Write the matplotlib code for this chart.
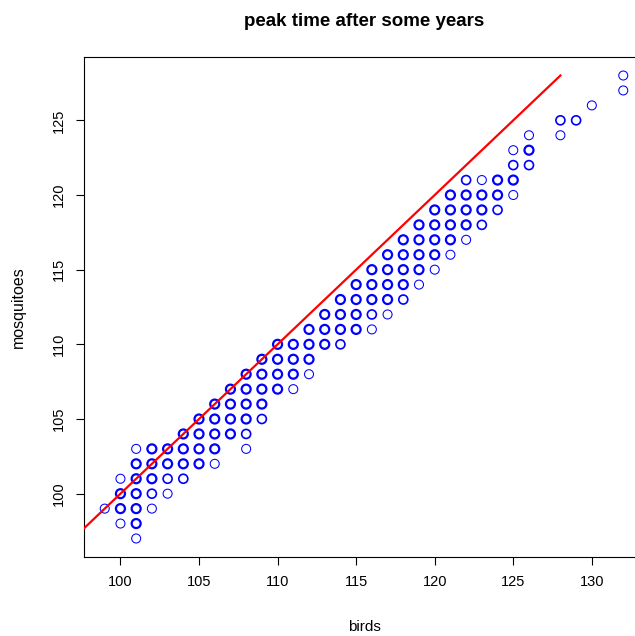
import matplotlib
matplotlib.use("Agg")
import matplotlib.pyplot as plt
import numpy as np

plt.rcParams['font.family'] = ['Liberation Sans', 'DejaVu Sans']

# one entry per distinct point, counts = how many times the pair occurs
birds = [101,
         100, 101,
         99, 100, 101, 102,
         100, 101, 102, 103,
         100, 101, 102, 103, 104,
         101, 102, 103, 104, 105, 106,
         101, 102, 103, 104, 105, 106, 108,
         104, 105, 106, 107, 108,
         105, 106, 107, 108, 109,
         106, 107, 108, 109,
         107, 108, 109, 110, 111,
         108, 109, 110, 111, 112,
         109, 110, 111, 112,
         110, 111, 112, 113, 114,
         112, 113, 114, 115, 116,
         113, 114, 115, 116, 117,
         114, 115, 116, 117, 118,
         115, 116, 117, 118, 119,
         116, 117, 118, 119, 120,
         117, 118, 119, 120, 121,
         118, 119, 120, 121, 122,
         119, 120, 121, 122, 123,
         120, 121, 122, 123, 124,
         121, 122, 123, 124, 125,
         122, 123, 124, 125,
         125, 126,
         125, 126,
         126, 128,
         128, 129,
         130,
         132,
         132]
mosquitoes = [97,
              98, 98,
              99, 99, 99, 99,
              100, 100, 100, 100,
              101, 101, 101, 101, 101,
              102, 102, 102, 102, 102, 102,
              103, 103, 103, 103, 103, 103, 103,
              104, 104, 104, 104, 104,
              105, 105, 105, 105, 105,
              106, 106, 106, 106,
              107, 107, 107, 107, 107,
              108, 108, 108, 108, 108,
              109, 109, 109, 109,
              110, 110, 110, 110, 110,
              111, 111, 111, 111, 111,
              112, 112, 112, 112, 112,
              113, 113, 113, 113, 113,
              114, 114, 114, 114, 114,
              115, 115, 115, 115, 115,
              116, 116, 116, 116, 116,
              117, 117, 117, 117, 117,
              118, 118, 118, 118, 118,
              119, 119, 119, 119, 119,
              120, 120, 120, 120, 120,
              121, 121, 121, 121,
              122, 122,
              123, 123,
              124, 124,
              125, 125,
              126,
              127,
              128]
counts = [1,
          1, 3,
          1, 3, 3, 1,
          3, 3, 2, 1,
          1, 3, 3, 2, 2,
          3, 3, 3, 3, 3, 1,
          1, 3, 3, 3, 3, 3, 1,
          3, 3, 3, 3, 2,
          3, 3, 3, 3, 2,
          3, 3, 3, 3,
          3, 3, 3, 3, 1,
          3, 3, 3, 3, 1,
          3, 3, 3, 3,
          3, 3, 3, 3, 2,
          3, 3, 3, 3, 1,
          3, 3, 3, 2, 1,
          3, 3, 3, 3, 2,
          3, 3, 3, 3, 1,
          3, 3, 3, 3, 1,
          3, 3, 3, 3, 1,
          3, 3, 3, 3, 1,
          3, 3, 3, 3, 2,
          3, 3, 3, 3, 2,
          3, 3, 3, 3, 1,
          2, 1, 3, 3,
          2, 2,
          1, 3,
          1, 1,
          2, 2,
          1,
          1,
          1]

# fitted line (y = x) over the mosquitoes range
line_x = [97, 128]
line_y = [97, 128]

x = np.array(birds)
y = np.array(mosquitoes)
c = np.array(counts)

fig = plt.figure(figsize=(6.35, 6.36), dpi=100)
# plot box runs a little past the right edge of the image, like the original
ax = fig.add_axes([84 / 635, 79 / 636, 560 / 635, 500 / 636])

lw = np.where(c == 1, 0.75, np.where(c == 2, 1.2, 1.6))
ax.scatter(x, y, s=42, facecolors='none', edgecolors='blue', linewidths=lw, zorder=3)
ax.plot(line_x, line_y, color='red', lw=1.6, zorder=4)

ax.set_xlim(97.68, 133.32)
ax.set_ylim(95.76, 129.24)
ax.set_xticks([100, 105, 110, 115, 120, 125, 130])
ax.set_yticks([100, 105, 110, 115, 120, 125])
ax.tick_params(direction='out', length=6, width=0.8, labelsize=10.5, pad=7)
plt.setp(ax.get_yticklabels(), rotation=90, va='center')
for s in ax.spines.values():
    s.set_linewidth(0.8)

ax.set_xlabel('birds', fontsize=11, labelpad=22)
ax.set_ylabel('mosquitoes', fontsize=11.5, labelpad=19)
ax.set_title('peak time after some years', fontsize=13.5, fontweight='bold', pad=22)

fig.savefig('out.png', dpi=100)
